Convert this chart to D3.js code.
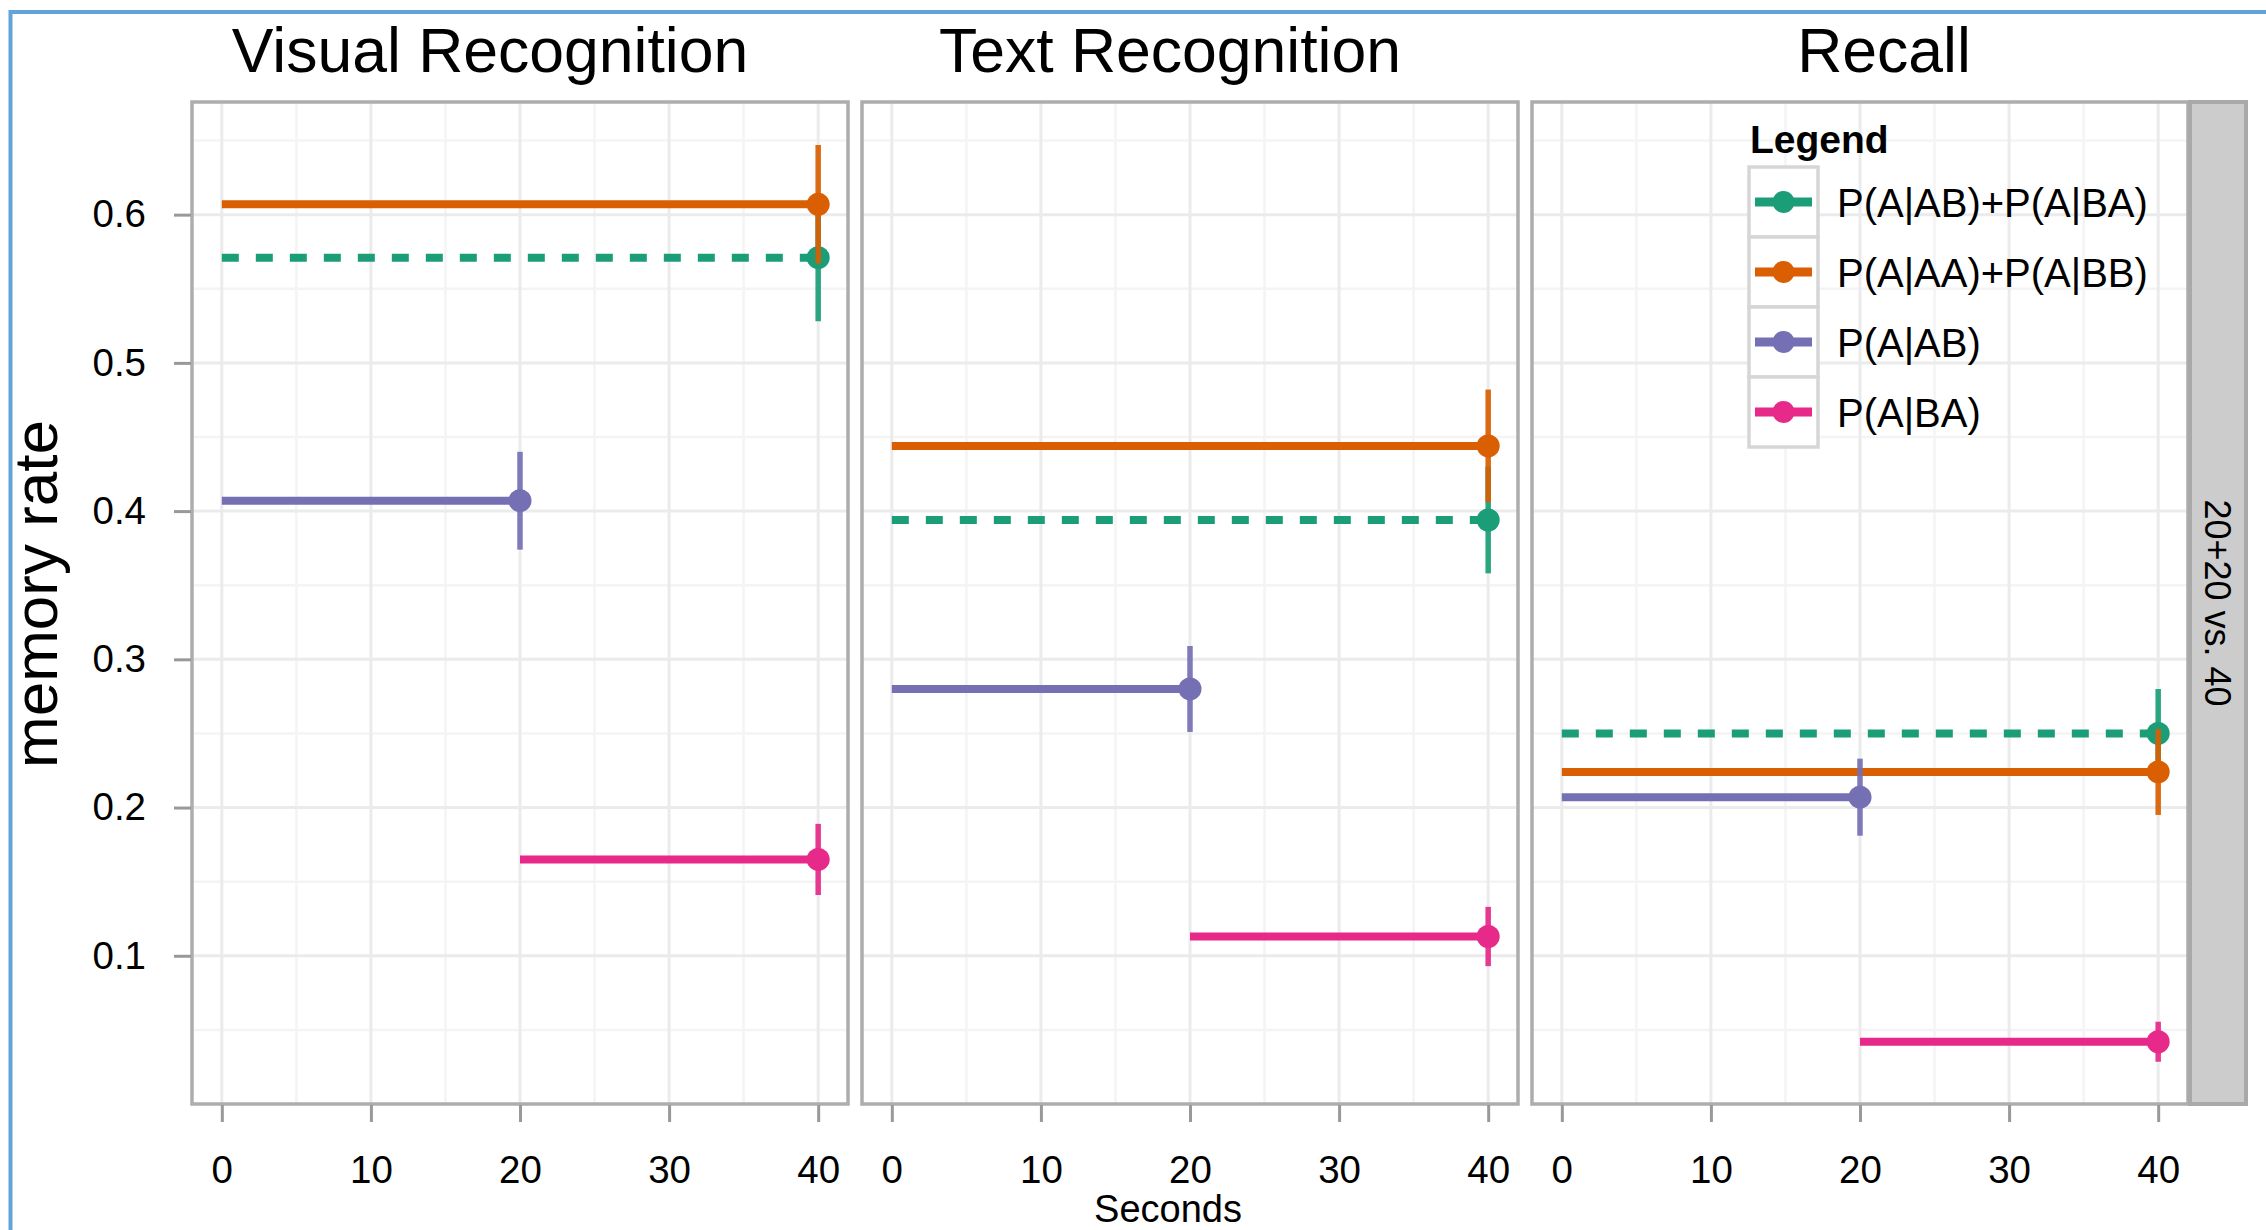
<!DOCTYPE html>
<html>
<head>
<meta charset="utf-8">
<script src="https://cdn.jsdelivr.net/npm/d3@7"></script>
<style>
  body { margin: 0; background: #fff; }
  svg { display: block; font-family: "Liberation Sans", Arial, Helvetica, sans-serif; }
</style>
</head>
<body>
<svg id="chart" width="2266" height="1230"></svg>
<script>
// facets and series
const panels = ["Visual Recognition", "Text Recognition", "Recall"];
const seriesNames = ["P(A|AB)+P(A|BA)", "P(A|AA)+P(A|BB)", "P(A|AB)", "P(A|BA)"];
const seriesColors = ["#1b9e77", "#d95f02", "#7570b3", "#e7298a"];
const seriesDashed = [true, false, false, false];
const seriesStart = [0, 0, 0, 20];
const seriesEnd = [40, 40, 20, 40];
// memory rate per panel, in series order
const means = [
  [0.571, 0.607, 0.407, 0.165],
  [0.394, 0.444, 0.280, 0.113],
  [0.250, 0.224, 0.207, 0.042]
];
const errors = [
  [0.043, 0.040, 0.033, 0.024],
  [0.036, 0.038, 0.029, 0.020],
  [0.030, 0.029, 0.026, 0.0135]
];
const xTicks = [0, 10, 20, 30, 40];
const xMinor = [5, 15, 25, 35];
const yTicks = [0.1, 0.2, 0.3, 0.4, 0.5, 0.6];
const yMinor = [0.05, 0.15, 0.25, 0.35, 0.45, 0.55, 0.65];
const stripLabel = "20+20 vs. 40";

const svg = d3.select("#chart");

const panelTop = 102, panelBottom = 1104;
const panelLeft0 = 192, panelW = 656, panelStep = 670;
const titleDx = [-30, -20, 24];

const y = d3.scaleLinear().domain([0, 0.676]).range([panelBottom, panelTop]);

// blue frame
svg.append("line").attr("x1", 9).attr("x2", 2266).attr("y1", 12).attr("y2", 12)
  .attr("stroke", "#62a3db").attr("stroke-width", 4);
svg.append("line").attr("x1", 10.5).attr("x2", 10.5).attr("y1", 10).attr("y2", 1230)
  .attr("stroke", "#62a3db").attr("stroke-width", 4);

panels.forEach((name, p) => {
  const left = panelLeft0 + p * panelStep;
  const x = d3.scaleLinear().domain([-2, 42]).range([left, left + panelW]);
  const g = svg.append("g");

  // grid
  g.selectAll(".vminor").data(xMinor).join("line")
    .attr("x1", d => x(d)).attr("x2", d => x(d)).attr("y1", panelTop).attr("y2", panelBottom)
    .attr("stroke", "#f4f4f4").attr("stroke-width", 2.5);
  g.selectAll(".hminor").data(yMinor).join("line")
    .attr("x1", left).attr("x2", left + panelW).attr("y1", d => y(d)).attr("y2", d => y(d))
    .attr("stroke", "#f4f4f4").attr("stroke-width", 2.5);
  g.selectAll(".vmajor").data(xTicks).join("line")
    .attr("x1", d => x(d)).attr("x2", d => x(d)).attr("y1", panelTop).attr("y2", panelBottom)
    .attr("stroke", "#ebebeb").attr("stroke-width", 3);
  g.selectAll(".hmajor").data(yTicks).join("line")
    .attr("x1", left).attr("x2", left + panelW).attr("y1", d => y(d)).attr("y2", d => y(d))
    .attr("stroke", "#ebebeb").attr("stroke-width", 3);

  const rows = seriesNames.map((s, i) => ({
    i, x0: seriesStart[i], x1: seriesEnd[i], m: means[p][i], e: errors[p][i]
  }));

  // horizontal lines
  g.selectAll(".hl").data(rows).join("line")
    .attr("x1", d => x(d.x0)).attr("x2", d => x(d.x1))
    .attr("y1", d => y(d.m)).attr("y2", d => y(d.m))
    .attr("stroke", d => seriesColors[d.i]).attr("stroke-width", 8)
    .attr("stroke-dasharray", d => seriesDashed[d.i] ? "17,17" : null);

  // point ranges
  rows.forEach(d => {
    g.append("line")
      .attr("x1", x(d.x1)).attr("x2", x(d.x1))
      .attr("y1", y(d.m - d.e)).attr("y2", y(d.m + d.e))
      .attr("stroke", seriesColors[d.i]).attr("stroke-width", 5.5).attr("opacity", 0.92);
    g.append("circle").attr("cx", x(d.x1)).attr("cy", y(d.m)).attr("r", 11.5)
      .attr("fill", seriesColors[d.i]);
  });

  // border
  g.append("rect").attr("x", left).attr("y", panelTop).attr("width", panelW)
    .attr("height", panelBottom - panelTop)
    .attr("fill", "none").attr("stroke", "#adadad").attr("stroke-width", 3.5);

  // x axis
  const xa = svg.append("g").attr("transform", `translate(0,${panelBottom + 1})`)
    .call(d3.axisBottom(x).tickValues(xTicks).tickSize(17).tickPadding(34));
  xa.select(".domain").remove();
  xa.selectAll("line").attr("stroke", "#999").attr("stroke-width", 3);
  xa.selectAll("text").attr("font-size", 38.5).attr("fill", "#000")
    .attr("font-family", "Liberation Sans, Arial, sans-serif");

  // facet title
  svg.append("text").attr("x", left + panelW / 2 + titleDx[p]).attr("y", 71.5)
    .attr("text-anchor", "middle").attr("font-size", 62.5).text(name);
});

// y axis on first panel
const ya = svg.append("g").attr("transform", `translate(${panelLeft0 - 1},0)`)
  .call(d3.axisLeft(y).tickValues(yTicks).tickSize(17).tickPadding(28).tickFormat(d3.format(".1f")));
ya.select(".domain").remove();
ya.selectAll("line").attr("stroke", "#999").attr("stroke-width", 3);
ya.selectAll("text").attr("font-size", 38.5).attr("fill", "#000")
  .attr("font-family", "Liberation Sans, Arial, sans-serif");

svg.append("text").attr("transform", "translate(57,594) rotate(-90)")
  .attr("text-anchor", "middle").attr("font-size", 62).text("memory rate");

svg.append("text").attr("x", 1168).attr("y", 1222).attr("text-anchor", "middle")
  .attr("font-size", 38).text("Seconds");

// strip on right
const stripX = panelLeft0 + 2 * panelStep + panelW + 2;
svg.append("rect").attr("x", stripX).attr("y", panelTop).attr("width", 56)
  .attr("height", panelBottom - panelTop)
  .attr("fill", "#cccccc").attr("stroke", "#a9a9a9").attr("stroke-width", 4);
svg.append("text").attr("transform", `translate(${stripX + 28 - 13},${(panelTop + panelBottom) / 2}) rotate(90)`)
  .attr("text-anchor", "middle").attr("font-size", 36).text(stripLabel);

// legend
const lg = svg.append("g");
lg.append("text").attr("x", 1750).attr("y", 153).attr("font-size", 39)
  .attr("font-weight", "bold").text("Legend");
const keyX = 1749, keyTop = 167, keyW = 69, keyH = 70;
seriesNames.forEach((s, i) => {
  const ky = keyTop + i * keyH;
  lg.append("rect").attr("x", keyX).attr("y", ky).attr("width", keyW).attr("height", keyH)
    .attr("fill", "#fff").attr("stroke", "#d6d6d6").attr("stroke-width", 3.5);
  lg.append("line").attr("x1", keyX + 6).attr("x2", keyX + keyW - 6)
    .attr("y1", ky + keyH / 2).attr("y2", ky + keyH / 2)
    .attr("stroke", seriesColors[i]).attr("stroke-width", 9);
  lg.append("circle").attr("cx", keyX + keyW / 2).attr("cy", ky + keyH / 2).attr("r", 11)
    .attr("fill", seriesColors[i]);
  lg.append("text").attr("x", 1837).attr("y", ky + keyH / 2 + 15).attr("font-size", 40).text(s);
});
</script>
</body>
</html>
